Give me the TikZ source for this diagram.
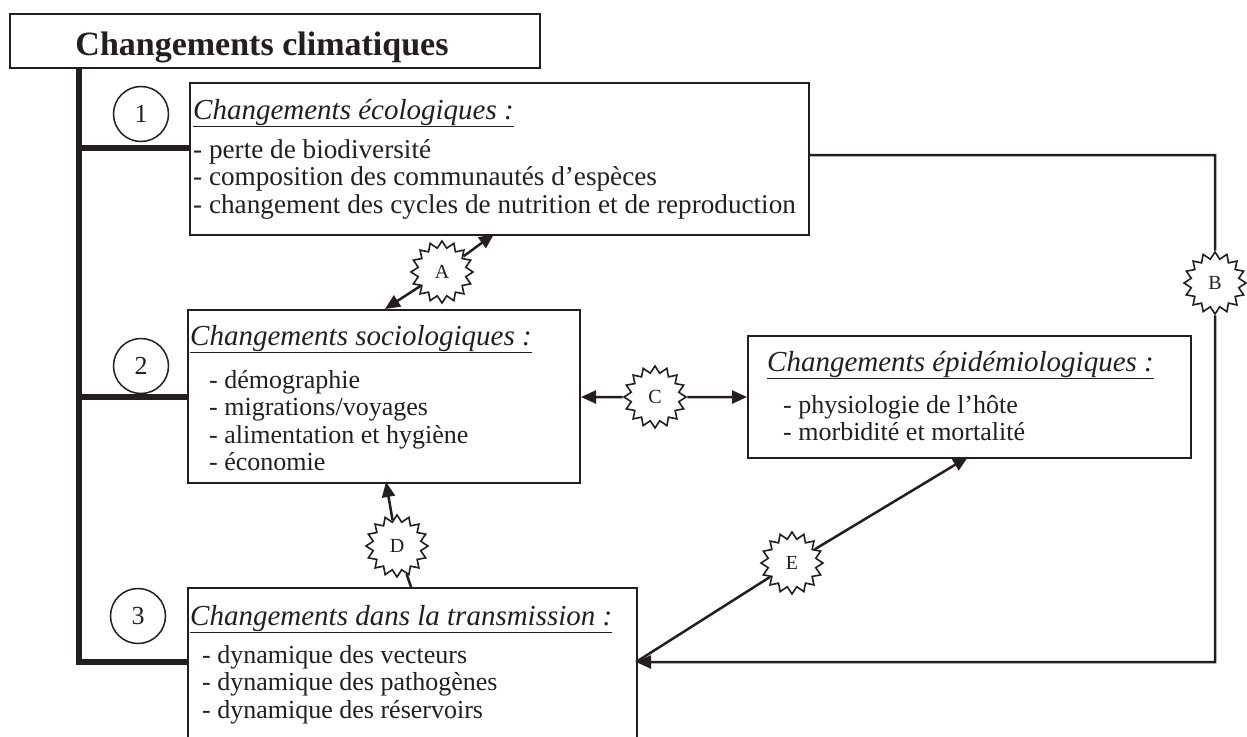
\documentclass[tikz,border=0pt]{standalone}
\usepackage{fontspec}
\setmainfont{Liberation Serif}
\usetikzlibrary{shapes.geometric,arrows.meta,calc}
\definecolor{ink}{HTML}{231F20}
\begin{document}
\begin{tikzpicture}[x=1pt,y=-1pt,
  box/.style={draw=ink,line width=2pt,rectangle,inner sep=0pt,anchor=north west,fill=white},
  txt/.style={anchor=base west,inner sep=0pt,text=ink},
  ttl/.style={txt,font=\fontsize{29}{29}\selectfont\itshape},
  itm/.style={txt,font=\fontsize{26}{26}\selectfont},
  trunk/.style={draw=ink,line width=5.5pt},
  num/.style={draw=ink,line width=1.5pt,circle,minimum size=55pt,inner sep=0pt,font=\fontsize{26}{26}\selectfont,text=ink},
  burst/.style={draw=ink,line width=1.6pt,fill=white,star,star points=16,star point ratio=1.28,minimum size=62pt,inner sep=0pt,font=\fontsize{20}{20}\selectfont,text=ink},
  con/.style={draw=ink,line width=2.5pt},
  tip/.style={-{Triangle[length=15pt,width=13pt]}},
]
\clip (0,0) rectangle (1247,736);
\fill[white] (0,0) rectangle (1247,736);

% title
\node[box,minimum width=530pt,minimum height=54pt] (cc) at (9,13) {};
\node[inner sep=0pt,anchor=base,text=ink,font=\fontsize{34}{34}\selectfont\bfseries] (cct) at (262,55) {Changements climatiques};

% boxes
\node[box,minimum width=619pt,minimum height=152pt] (eco) at (189,82) {};
\node[box,minimum width=392pt,minimum height=173pt] (soc) at (187,309) {};
\node[box,minimum width=443pt,minimum height=122pt] (epi) at (747,335) {};
\node[box,minimum width=449pt,minimum height=200pt] (tra) at (187,587) {};

% texts box 1
\node[ttl] (t1) at (193,119) {\underline{Changements écologiques :}};
\node[txt,font=\fontsize{27.2}{27.2}\selectfont] (t1a) at (193,158) {- perte de biodiversité};
\node[txt,font=\fontsize{27.2}{27.2}\selectfont] (t1b) at (193,185.5) {- composition des communautés d’espèces};
\node[txt,font=\fontsize{27.2}{27.2}\selectfont] (t1c) at (193,213) {- changement des cycles de nutrition et de reproduction};

% texts box 2
\node[ttl] (t2) at (190,345) {\underline{Changements sociologiques :}};
\node[itm] (t2a) at (209,388) {- démographie};
\node[itm] (t2b) at (209,415.5) {- migrations/voyages};
\node[itm] (t2c) at (209,443) {- alimentation et hygiène};
\node[itm] (t2d) at (209,470.5) {- économie};

% texts box 4
\node[ttl] (t4) at (767,371) {\underline{Changements épidémiologiques :}};
\node[itm] (t4a) at (783,413) {- physiologie de l’hôte};
\node[itm] (t4b) at (783,440) {- morbidité et mortalité};

% texts box 3
\node[ttl] (t3) at (190,625) {\underline{Changements dans la transmission :}};
\node[itm] (t3a) at (202,663) {- dynamique des vecteurs};
\node[itm] (t3b) at (202,690.5) {- dynamique des pathogènes};
\node[itm] (t3c) at (202,718) {- dynamique des réservoirs};

% numbered circles
\node[num] (n1) at (141,114) {1};
\node[num] (n2) at (141,366) {2};
\node[num] (n3) at (138,616) {3};

% trunk
\coordinate (k0) at (79,67);
\coordinate (k3) at (79,662);
\draw[trunk] (k0) -- (k3) -- (k3 -| tra.west);
\draw[trunk] (79,148) -- (79,148 -| eco.west);
\draw[trunk] (79,397) -- (79,397 -| soc.west);

% stars
\node[burst] (A) at (442,272) {A};
\node[burst] (B) at (1215,283) {B};
\node[burst] (C) at (655,397) {C};
\node[burst] (D) at (397,546) {D};
\node[burst] (E) at (792,563) {E};

% connectors
\coordinate (a1) at (494,234);
\coordinate (a2) at (385,309);
\draw[con,tip] (A) -- (a1);
\draw[con,tip] (A) -- (a2);

\coordinate (b0) at (808,155);
\coordinate (b1) at (1215,155);
\coordinate (b2) at (1215,662);
\coordinate (b3) at (636,662);
\draw[con] (b0) -- (b1) -- (B);
\draw[con,tip] (B) -- (b2) -- (b3);

\draw[con,tip] (C) -- (C -| soc.east);
\draw[con,tip] (C) -- (C -| epi.west);

\coordinate (d0) at (411,587);
\coordinate (d1) at (386,482);
\draw[con] (d0) -- (D);
\draw[con,tip] (D) -- (d1);

\coordinate (e0) at (636,662);
\coordinate (e1) at (968,457);
\draw[con] (e0) -- (E);
\draw[con,tip] (E) -- (e1);
\end{tikzpicture}
\end{document}
